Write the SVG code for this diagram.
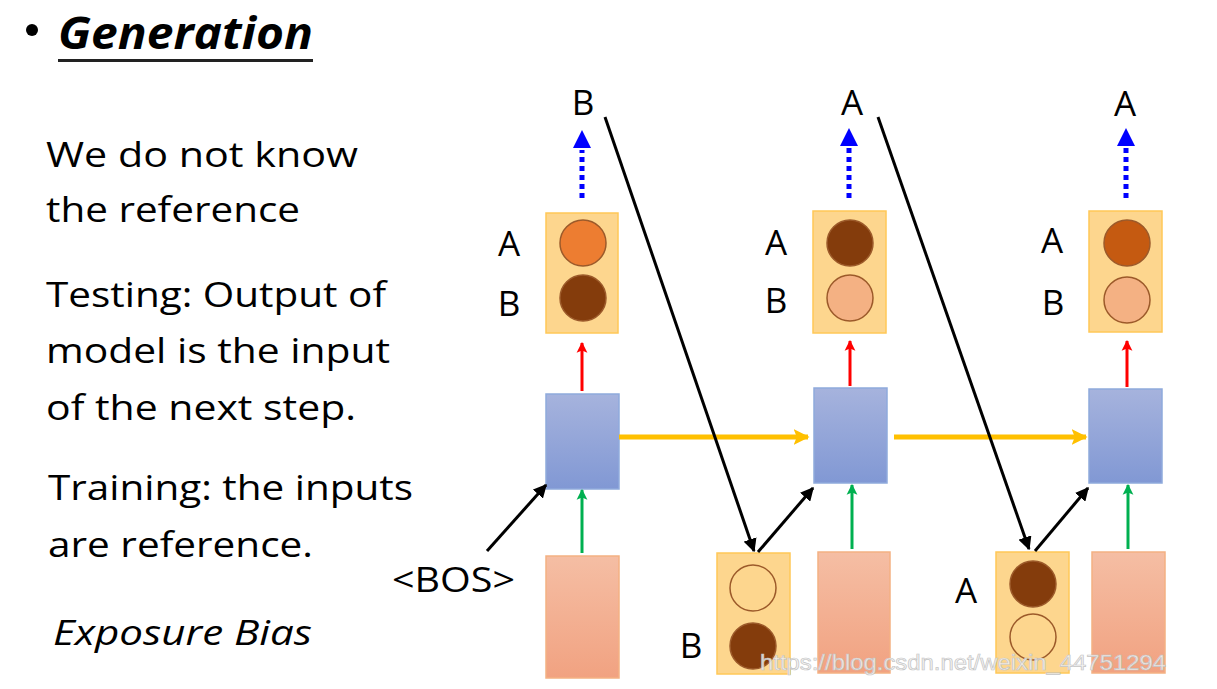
<svg xmlns="http://www.w3.org/2000/svg" width="1217" height="689" viewBox="0 0 1217 689">
<defs>
<style>
.t{font-family:"Open Sans","Liberation Sans",sans-serif;font-size:34px;fill:#000}
.lb{font-family:"Open Sans","Liberation Sans",sans-serif;font-size:35px;fill:#000}
.out{fill:#FDD68E;stroke:#FFC857;stroke-width:1.5}
.blu{fill:url(#gb);stroke:#8FAADC;stroke-width:1.5}
.pnk{fill:url(#gp);stroke:#F4B183;stroke-width:1.5}
.cs{stroke:#9C5A2A;stroke-width:1.5}
.blk{stroke:#000;stroke-width:3;fill:none}
</style>
<linearGradient id="gb" x1="0" y1="0" x2="0" y2="1"><stop offset="0" stop-color="#A6B3DD"/><stop offset="1" stop-color="#8198D4"/></linearGradient>
<linearGradient id="gp" x1="0" y1="0" x2="0" y2="1"><stop offset="0" stop-color="#F5BEA4"/><stop offset="1" stop-color="#F1A281"/></linearGradient>
<marker id="ak" viewBox="0 0 10 10" refX="9" refY="5" markerWidth="4.5" markerHeight="4.5" orient="auto" markerUnits="strokeWidth"><path d="M0,0 L10,5 L0,10 Z" fill="#000"/></marker>
<marker id="ay" viewBox="0 0 10 10" refX="9" refY="5" markerWidth="3.2" markerHeight="3.6" orient="auto" markerUnits="strokeWidth"><path d="M0,0 L10,5 L0,10 L2,5 Z" fill="#FFC000"/></marker>
<marker id="ar" viewBox="0 0 10 10" refX="9" refY="5" markerWidth="3.6" markerHeight="4" orient="auto" markerUnits="strokeWidth"><path d="M0,0 L10,5 L0,10 L2,5 Z" fill="#FF0000"/></marker>
<marker id="ag" viewBox="0 0 10 10" refX="9" refY="5" markerWidth="3.6" markerHeight="4" orient="auto" markerUnits="strokeWidth"><path d="M0,0 L10,5 L0,10 L2,5 Z" fill="#00B050"/></marker>
</defs>
<rect width="1217" height="689" fill="#fff"/>

<g id="title">
<circle cx="32" cy="30" r="6" fill="#000"/>
<text x="58" y="49" font-family="'Open Sans','Liberation Sans',sans-serif" font-size="45" font-weight="bold" font-style="italic" textLength="255" lengthAdjust="spacingAndGlyphs">Generation</text>
<rect x="58" y="59" width="255" height="3" fill="#222"/>
</g>

<g id="left-text">
<text class="t" x="46" y="167" textLength="312" lengthAdjust="spacingAndGlyphs">We do not know</text>
<text class="t" x="46" y="222" textLength="254" lengthAdjust="spacingAndGlyphs">the reference</text>
<text class="t" x="46" y="307" textLength="340" lengthAdjust="spacingAndGlyphs">Testing: Output of</text>
<text class="t" x="46" y="363" textLength="344" lengthAdjust="spacingAndGlyphs">model is the input</text>
<text class="t" x="46" y="420" textLength="310" lengthAdjust="spacingAndGlyphs">of the next step.</text>
<text class="t" x="48" y="500" textLength="365" lengthAdjust="spacingAndGlyphs">Training: the inputs</text>
<text class="t" x="48" y="557" textLength="265" lengthAdjust="spacingAndGlyphs">are reference.</text>
<text class="t" x="53" y="645" font-style="italic" textLength="259" lengthAdjust="spacingAndGlyphs">Exposure Bias</text>
</g>

<g id="bos"><text class="t" x="392" y="592" textLength="123" lengthAdjust="spacingAndGlyphs">&lt;BOS&gt;</text></g>

<g id="col1-out">
<rect class="out" x="546" y="213" width="72" height="120"/>
<circle class="cs" cx="583" cy="243" r="23" fill="#ED7D31"/>
<circle class="cs" cx="583" cy="298" r="23" fill="#843C0C"/>
<text class="lb" x="509" y="256" text-anchor="middle">A</text>
<text class="lb" x="509" y="316" text-anchor="middle">B</text>
<text class="lb" x="583" y="115" text-anchor="middle">B</text>
</g>
<g id="col1-rnn"><rect class="blu" x="546" y="394" width="73" height="95"/></g>
<g id="col1-in"><rect class="pnk" x="546" y="556" width="73" height="122"/></g>

<g id="col2-out">
<rect class="out" x="813" y="211" width="73" height="122"/>
<circle class="cs" cx="850" cy="243" r="23" fill="#843C0C"/>
<circle class="cs" cx="850" cy="298" r="23" fill="#F4B183"/>
<text class="lb" x="776" y="255" text-anchor="middle">A</text>
<text class="lb" x="776" y="313" text-anchor="middle">B</text>
<text class="lb" x="852" y="115" text-anchor="middle">A</text>
</g>
<g id="col2-rnn"><rect class="blu" x="814" y="388" width="73" height="95"/></g>
<g id="col2-fed">
<rect class="out" x="717" y="553" width="73" height="121"/>
<circle class="cs" cx="753" cy="588" r="23" fill="#FDD68E"/>
<circle class="cs" cx="753" cy="646" r="23" fill="#843C0C"/>
<text class="lb" x="691" y="658" text-anchor="middle">B</text>
</g>
<g id="col2-in"><rect class="pnk" x="818" y="552" width="72" height="121"/></g>

<g id="col3-out">
<rect class="out" x="1089" y="211" width="73" height="121"/>
<circle class="cs" cx="1127" cy="243" r="23" fill="#C55A11"/>
<circle class="cs" cx="1127" cy="300" r="23" fill="#F4B183"/>
<text class="lb" x="1052" y="253" text-anchor="middle">A</text>
<text class="lb" x="1053" y="315" text-anchor="middle">B</text>
<text class="lb" x="1125" y="116" text-anchor="middle">A</text>
</g>
<g id="col3-rnn"><rect class="blu" x="1089" y="389" width="73" height="94"/></g>
<g id="col3-fed">
<rect class="out" x="996" y="552" width="73" height="121"/>
<circle class="cs" cx="1033" cy="584" r="23" fill="#843C0C"/>
<circle class="cs" cx="1033" cy="637" r="23" fill="#FDD68E"/>
<text class="lb" x="966" y="603" text-anchor="middle">A</text>
</g>
<g id="col3-in"><rect class="pnk" x="1092" y="552" width="73" height="121"/></g>

<g id="connectors">
<line x1="582" y1="198" x2="582" y2="150" stroke="#0000FF" stroke-width="5" stroke-dasharray="5 4"/>
<path d="M582,130 L573,148 L591,148 Z" fill="#0000FF"/>
<line x1="849" y1="198" x2="849" y2="148" stroke="#0000FF" stroke-width="5" stroke-dasharray="5 4"/>
<path d="M849,128 L840,146 L858,146 Z" fill="#0000FF"/>
<line x1="1126" y1="198" x2="1126" y2="148" stroke="#0000FF" stroke-width="5" stroke-dasharray="5 4"/>
<path d="M1126,128 L1117,146 L1135,146 Z" fill="#0000FF"/>

<line x1="582" y1="391" x2="582" y2="343" stroke="#FF0000" stroke-width="3" marker-end="url(#ar)"/>
<line x1="850" y1="386" x2="850" y2="341" stroke="#FF0000" stroke-width="3" marker-end="url(#ar)"/>
<line x1="1127" y1="387" x2="1127" y2="341" stroke="#FF0000" stroke-width="3" marker-end="url(#ar)"/>

<line x1="582" y1="553" x2="582" y2="490" stroke="#00B050" stroke-width="3" marker-end="url(#ag)"/>
<line x1="852" y1="549" x2="852" y2="485" stroke="#00B050" stroke-width="3" marker-end="url(#ag)"/>
<line x1="1128" y1="549" x2="1128" y2="485" stroke="#00B050" stroke-width="3" marker-end="url(#ag)"/>

<line x1="619" y1="437" x2="808" y2="437" stroke="#FFC000" stroke-width="5" marker-end="url(#ay)"/>
<line x1="894" y1="437" x2="1086" y2="437" stroke="#FFC000" stroke-width="5" marker-end="url(#ay)"/>

<line class="blk" x1="487" y1="551" x2="546" y2="485" marker-end="url(#ak)"/>
<line class="blk" x1="605" y1="117" x2="754" y2="551" marker-end="url(#ak)"/>
<line class="blk" x1="758" y1="552" x2="813" y2="488" marker-end="url(#ak)"/>
<line class="blk" x1="878" y1="117" x2="1029" y2="549" marker-end="url(#ak)"/>
<line class="blk" x1="1035" y1="551" x2="1088" y2="488" marker-end="url(#ak)"/>
</g>

<g id="watermark">
<text x="760" y="670" font-family="'Liberation Sans',sans-serif" font-size="22" fill="#f4f4f4" stroke="#c4c4c4" stroke-width="0.7" fill-opacity="0.85" textLength="406" lengthAdjust="spacingAndGlyphs">https://blog.csdn.net/weixin_44751294</text>
</g>
</svg>
